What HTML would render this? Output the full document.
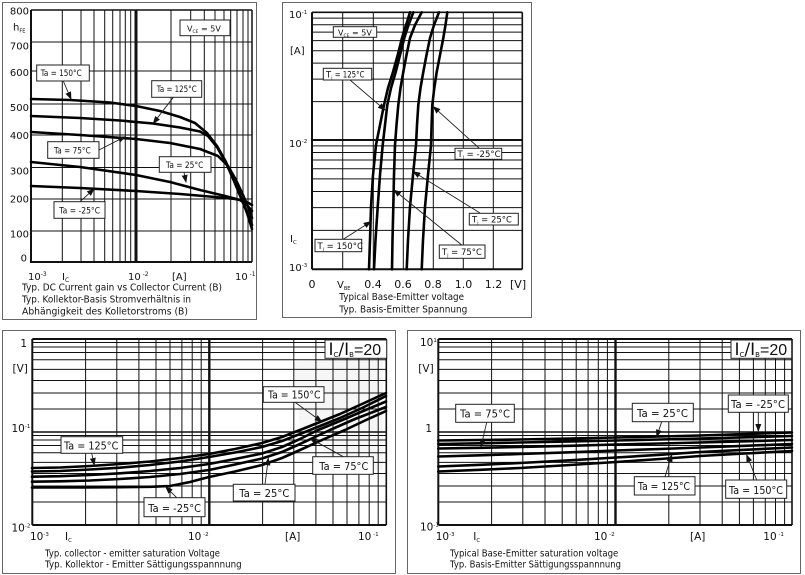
<!DOCTYPE html>
<html><head><meta charset="utf-8"><style>
html,body{margin:0;padding:0;background:#fff;}
svg{display:block;}
text{font-family:"DejaVu Sans","Liberation Sans",sans-serif;fill:#111;}
.g{stroke:#111;stroke-width:1;fill:none;}
.c{stroke:#000;stroke-width:2.6;fill:none;stroke-linejoin:round;stroke-linecap:round;}
.b{fill:#fff;stroke:#222;stroke-width:1;}
.a{stroke:#222;stroke-width:0.9;fill:none;}
.fr{fill:none;stroke:#666;stroke-width:1;}
</style></head><body>
<svg width="805" height="575" viewBox="0 0 805 575" xmlns="http://www.w3.org/2000/svg">
<defs>
<marker id="ah" markerWidth="8" markerHeight="6" refX="7" refY="3" orient="auto" markerUnits="userSpaceOnUse">
<path d="M0,0 L8,3 L0,6 Z" fill="#111"/>
</marker>
</defs>
<rect x="0" y="0" width="805" height="575" fill="#fff"/>

<!-- panel frames -->
<rect class="fr" x="2.5" y="2.5" width="254" height="317"/>
<rect class="fr" x="282.5" y="2.5" width="249" height="315"/>
<rect class="fr" x="2.5" y="330.5" width="393" height="243"/>
<rect class="fr" x="407.5" y="330.5" width="393" height="243"/>

<!-- ================= PANEL 1 ================= -->
<g class="g">
<path d="M62.3 10V262M81 10V262M94 10V262M104.7 10V262M112.7 10V262M120 10V262M125.3 10V262M130.7 10V262M171 10V262M190.7 10V262M204.3 10V262M215 10V262M224 10V262M230.7 10V262M237 10V262M243 10V262M248 10V262"/>
<path d="M31 42H252M31 71H252M31 104H252M31 135H252M31 167.5H252M31 199H252M31 231H252"/>
<path d="M31 10H252" stroke-width="1.5"/>
<path d="M252 10V262" stroke-width="1.5"/>
<path d="M31 262H252" stroke-width="2"/>
<path d="M31 10V263" stroke-width="2"/>
<path d="M136 10V262" stroke-width="3"/>
</g>
<g class="c">
<polyline points="31,99 70,100 110,102.5 136,106 160,111 180,117 195,123 207,133 217,146 226,162 234,180 241,197 247,213 252,229"/>
<polyline points="31,116 80,118 120,120.5 153,123.5 180,127.5 200,131.5 208,136 217,147 226,163 234,181 241,198 247,212 252,225"/>
<polyline points="31,132 80,135 136,139 170,143 200,149 218,156 228,166 236,180 243,195 248,207 252,218"/>
<polyline points="31,162 80,167 136,175 170,182 200,190 225,196 240,200 246,204 252,211"/>
<polyline points="31,186 80,188 136,191 180,194 215,197 235,199 245,201 252,205"/>
</g>
<g font-size="10" text-anchor="end">
<text x="29" y="14.5">800</text>
<text x="29" y="49.5">700</text>
<text x="29" y="76">600</text>
<text x="29" y="111">500</text>
<text x="29" y="139">400</text>
<text x="29" y="174.5">300</text>
<text x="29" y="202.5">200</text>
<text x="29" y="237.5">100</text>
<text x="27" y="261.5">0</text>
</g>
<text x="13" y="30.5" font-size="10">h<tspan font-size="5" dy="2">FE</tspan></text>
<g font-size="10">
<text x="28" y="280">10<tspan font-size="6" dy="-4">-3</tspan></text>
<text x="62" y="280" font-family="Liberation Serif,serif">I<tspan font-size="6" dy="2">C</tspan></text>
<text x="128" y="280">10<tspan font-size="6" dy="-4"> -2</tspan></text>
<text x="172" y="280">[A]</text>
<text x="235" y="280">10<tspan font-size="6" dy="-4"> -1</tspan></text>
</g>
<g font-size="9.5">
<text x="22" y="290.5" textLength="200" lengthAdjust="spacingAndGlyphs">Typ. DC Current gain vs Collector Current (B)</text>
<text x="22" y="302.5" textLength="169" lengthAdjust="spacingAndGlyphs">Typ. Kollektor-Basis Stromverhältnis in</text>
<text x="22" y="314.5" textLength="166" lengthAdjust="spacingAndGlyphs">Abhängigkeit des Kolletorstroms (B)</text>
</g>
<!-- panel 1 boxes -->
<rect class="b" x="180" y="20" width="50" height="15.7"/>
<text x="187" y="31.5" font-size="8">V<tspan font-size="4.5" dy="1.5">CE</tspan><tspan dy="-1.5"> = 5V</tspan></text>
<g font-size="8.5">
<path class="a" d="M63.3 81L71 99" marker-end="url(#ah)"/>
<rect class="b" x="36.7" y="65" width="52.6" height="16"/>
<text x="40.7" y="76" textLength="41" lengthAdjust="spacingAndGlyphs">Ta = 150°C</text>
<path class="a" d="M173.3 97.3L153.3 123.3" marker-end="url(#ah)"/>
<rect class="b" x="151.7" y="80.7" width="50" height="16.6"/>
<text x="156.7" y="92" textLength="40" lengthAdjust="spacingAndGlyphs">Ta = 125°C</text>
<path class="a" d="M99 150L125 136.7" marker-end="url(#ah)"/>
<rect class="b" x="47.7" y="141.7" width="51.3" height="16.6"/>
<text x="54" y="153.5" textLength="36.7" lengthAdjust="spacingAndGlyphs">Ta = 75°C</text>
<path class="a" d="M184 172.3L186 182" marker-end="url(#ah)"/>
<rect class="b" x="159.3" y="156.7" width="51.7" height="15.6"/>
<text x="166" y="168" textLength="37.3" lengthAdjust="spacingAndGlyphs">Ta = 25°C</text>
<path class="a" d="M80 201.7L94 189" marker-end="url(#ah)"/>
<rect class="b" x="54" y="201.7" width="51" height="16.6"/>
<text x="59.3" y="213.5" textLength="40.7" lengthAdjust="spacingAndGlyphs">Ta = -25°C</text>
</g>

<!-- ================= PANEL 2 ================= -->
<g class="g">
<path d="M342.7 12.3V269.3M373.3 12.3V269.3M403.3 12.3V269.3M433.3 12.3V269.3M463.3 12.3V269.3M493.3 12.3V269.3"/>
<path d="M312 18.1H522.3M312 24.7H522.3M312 32.1H522.3M312 40.6H522.3M312 50.7H522.3M312 63.1H522.3M312 79.1H522.3M312 101.6H522.3M312 145.9H522.3M312 152.5H522.3M312 160H522.3M312 168.7H522.3M312 178.9H522.3M312 191.5H522.3M312 207.6H522.3M312 230.4H522.3"/>
<path d="M312 140H522.3" stroke-width="2"/>
<path d="M312 12.3H522.3" stroke-width="1.6"/>
<path d="M312 269.3H522.3" stroke-width="2"/>
<path d="M312 12.3V269.3" stroke-width="2"/>
<path d="M522.3 12.3V269.3" stroke-width="1.6"/>
</g>
<g class="c">
<polyline points="369,269.3 370,240 371,207 373,175 376,145 380,125 384,105 388,88 393,72 398,54 402,38 405,28 407,22 410,12.3"/>
<polyline points="374,269.3 375.5,240 377.7,207 380,175 382.7,145 385,125 387.3,105 391,88 395.7,72 400,55 404.3,38 408.5,25 413.3,12.3"/>
<polyline points="392,269.3 392.5,240 393.3,207 394,175 395,145 396.5,125 398.3,105 400.5,88 403.3,72 406.5,55 410,38 415,25 421.7,12.3"/>
<polyline points="406.7,269.3 408,240 410,207 413,175 416,145 417,125 418.3,105 420.5,88 423.3,72 426.5,55 430,38 434,25 439,12.3"/>
<polyline points="421.7,269.3 423,240 425,207 428,175 431,145 431.6,125 432.3,105 434.3,88 436.7,72 440,55 443.3,38 445.5,25 447.3,12.3"/>
</g>
<g font-size="10">
<text x="289" y="18">10<tspan font-size="5.5" dy="-4">-1</tspan></text>
<text x="290" y="54">[A]</text>
<text x="289" y="147">10<tspan font-size="5.5" dy="-4">-2</tspan></text>
<text x="290" y="242">I<tspan font-size="5.5" dy="2">C</tspan></text>
<text x="289" y="271">10<tspan font-size="5.5" dy="-4">-3</tspan></text>
</g>
<g font-size="11" text-anchor="middle">
<text x="312" y="288">0</text>
<text x="373" y="288">0.4</text>
<text x="403" y="288">0.6</text>
<text x="433" y="288">0.8</text>
<text x="463.5" y="288">1.0</text>
<text x="493.5" y="288">1.2</text>
</g>
<text x="337" y="288" font-size="10">V<tspan font-size="5" dy="2">BE</tspan></text>
<text x="510" y="288" font-size="11">[V]</text>
<g font-size="9.5">
<text x="339.3" y="300" textLength="124.7" lengthAdjust="spacingAndGlyphs">Typical Base-Emitter voltage</text>
<text x="339.3" y="312.5" textLength="128" lengthAdjust="spacingAndGlyphs">Typ. Basis-Emitter Spannung</text>
</g>
<rect class="b" x="333.3" y="26.7" width="43.4" height="10.6"/>
<text x="338" y="35.5" font-size="8">V<tspan font-size="4.5" dy="1.5">CE</tspan><tspan dy="-1.5"> = 5V</tspan></text>
<g font-size="8.5">
<path class="a" d="M350 80L385 110" marker-end="url(#ah)"/>
<rect class="b" x="323.3" y="68.3" width="48.4" height="11.7"/>
<text x="326" y="77.5">T<tspan font-size="4.5" dy="1.5">j</tspan><tspan dy="-1.5" textLength="32" lengthAdjust="spacingAndGlyphs"> =  125°C</tspan></text>
<path class="a" d="M479 148L433.3 106.7" marker-end="url(#ah)"/>
<rect class="b" x="455" y="148.3" width="46.7" height="11"/>
<text x="457.5" y="157">T<tspan font-size="4.5" dy="1.5">j</tspan><tspan dy="-1.5"> = -25°C</tspan></text>
<path class="a" d="M480 213L413.3 171.7" stroke="#aaa" marker-end="url(#ah)"/>
<rect class="b" x="469.3" y="213.3" width="49" height="11.7"/>
<text x="472" y="222.5">T<tspan font-size="4.5" dy="1.5">j</tspan><tspan dy="-1.5"> =  25°C</tspan></text>
<path class="a" d="M461.7 245L394 190" marker-end="url(#ah)"/>
<rect class="b" x="439.3" y="245" width="45.7" height="13.3"/>
<text x="442" y="255">T<tspan font-size="4.5" dy="1.5">j</tspan><tspan dy="-1.5"> = 75°C</tspan></text>
<path class="a" d="M343.3 239.3L370.7 221.7" marker-end="url(#ah)"/>
<rect class="b" x="315" y="239.3" width="46.7" height="12.4"/>
<text x="317.5" y="249">T<tspan font-size="4.5" dy="1.5">j</tspan><tspan dy="-1.5"> = 150°C</tspan></text>
</g>

<!-- ================= PANEL 3 ================= -->
<path d="M293 362 L383 356 L383 470 L345 470 L300 430 Z" fill="#f6f6f6"/>
<g class="g">
<path d="M85.6 339V525M116.8 339V525M138.9 339V525M156 339V525M170 339V525M181.9 339V525M192.2 339V525M201.2 339V525M262.6 339V525M293.8 339V525M315.9 339V525M333 339V525M347 339V525M358.9 339V525M369.2 339V525M378.2 339V525"/>
<path d="M32.3 342.5H386.3M32.3 347H386.3M32.3 352.5H386.3M32.3 359.7H386.3M32.3 369.4H386.3M32.3 380.5H386.3M32.3 393H386.3M32.3 409H386.3M32.3 435.5H386.3M32.3 440H386.3M32.3 445.5H386.3M32.3 452.8H386.3M32.3 462.4H386.3M32.3 473.5H386.3M32.3 486H386.3M32.3 502H386.3"/>
<path d="M32.3 432H386.3" stroke-width="1.6"/>
<path d="M32.3 339H386.3" stroke-width="2"/>
<path d="M32.3 525H386.3" stroke-width="2"/>
<path d="M32.3 339V525" stroke-width="2"/>
<path d="M386.3 339V525" stroke-width="1.6"/>
<path d="M209.3 339V525" stroke-width="2.4"/>
</g>
<g class="c">
<polyline points="32,468 60,467.5 90,466 120,464 150,461.5 180,458 209,454 235,449 262,443 282,437 300,430 320,422 340,414 362,404 386,393"/>
<polyline points="32,471.5 60,471 90,469.5 120,467.7 150,465 180,461.5 209,457 235,452.5 262,447 282,441 300,434 320,426 340,418 362,408 386,396"/>
<polyline points="32,476.7 60,476.2 90,475 120,473.3 150,471 180,468 209,464 235,459 262,453.5 282,447 300,439 318,430 340,421 362,411.5 386,401.5"/>
<polyline points="32,481.7 60,481.3 90,480.5 120,479 150,477 180,474 209,470 235,464.5 262,458.5 282,452 300,444 315,437 330,430 355,419 386,407"/>
<polyline points="32,487.5 80,487.4 120,487.2 150,486.8 170,486 190,482 209,477 235,471.5 262,465 282,458 300,450 322,440 345,430 365,420.5 386,411"/>
</g>
<g font-size="10.5">
<text x="27" y="347" text-anchor="end">1</text>
<text x="12.5" y="372">[V]</text>
<text x="11.5" y="432">10<tspan font-size="5.5" dy="-4">-1</tspan></text>
<text x="11.5" y="531.5">10<tspan font-size="5.5" dy="-4">-2</tspan></text>
<text x="30" y="540">10<tspan font-size="5.5" dy="-4">-3</tspan></text>
<text x="65" y="540" font-family="Liberation Serif,serif">I<tspan font-size="5.5" dy="2">C</tspan></text>
<text x="188" y="540">10<tspan font-size="5.5" dy="-4"> -2</tspan></text>
<text x="285" y="540">[A]</text>
<text x="358" y="540">10<tspan font-size="5.5" dy="-4"> -1</tspan></text>
</g>
<g font-size="9.5">
<text x="45" y="556.5" textLength="175" lengthAdjust="spacingAndGlyphs">Typ. collector - emitter saturation Voltage</text>
<text x="45" y="567.5" textLength="196.7" lengthAdjust="spacingAndGlyphs">Typ. Kollektor - Emitter Sättigungsspannnung</text>
</g>
<rect class="b" x="325" y="340" width="61.7" height="18.3"/>
<text x="328.5" y="355" font-size="17" font-family="Liberation Serif,serif">I<tspan font-size="7" dy="2">C</tspan><tspan dy="-2">/I</tspan><tspan font-size="7" dy="2">B</tspan><tspan dy="-2" font-family="Liberation Sans,sans-serif" font-size="16">=20</tspan></text>
<g font-size="10.5">
<path class="a" d="M295 402.3L321.7 421.7" marker-end="url(#ah)"/>
<rect class="b" x="263.3" y="386.7" width="60.7" height="15.6"/>
<text x="268" y="398.5" textLength="52.5" lengthAdjust="spacingAndGlyphs">Ta = 150°C</text>
<path class="a" d="M91.7 453.3L94.3 465" marker-end="url(#ah)"/>
<rect class="b" x="61" y="436.7" width="61.7" height="16.6"/>
<text x="64" y="449.5" textLength="54.3" lengthAdjust="spacingAndGlyphs">Ta = 125°C</text>
<path class="a" d="M343.3 456.7L310 438.3" stroke="#888" marker-end="url(#ah)"/>
<rect class="b" x="312.7" y="456.7" width="60.6" height="17.6"/>
<text x="319.3" y="470" textLength="49" lengthAdjust="spacingAndGlyphs">Ta = 75°C</text>
<path class="a" d="M265 484.3L268.3 458.3" marker-end="url(#ah)"/>
<rect class="b" x="233.3" y="484.3" width="61.7" height="16.7"/>
<text x="239.3" y="497" textLength="50" lengthAdjust="spacingAndGlyphs">Ta = 25°C</text>
<path class="a" d="M176.7 497.7L165.7 486.7" marker-end="url(#ah)"/>
<rect class="b" x="144" y="497.7" width="61" height="19"/>
<text x="148.3" y="512" textLength="52.7" lengthAdjust="spacingAndGlyphs">Ta = -25°C</text>
</g>

<!-- ================= PANEL 4 ================= -->
<g class="g">
<path d="M491.6 339V525M522.8 339V525M545 339V525M562.2 339V525M576.2 339V525M588.1 339V525M598.3 339V525M607.4 339V525M668.8 339V525M700 339V525M722.2 339V525M739.4 339V525M753.4 339V525M765.3 339V525M775.5 339V525M784.6 339V525"/>
<path d="M438.3 342.5H792M438.3 347H792M438.3 352.5H792M438.3 359.7H792M438.3 369.4H792M438.3 380.5H792M438.3 393H792M438.3 409H792M438.3 435.5H792M438.3 440H792M438.3 445.5H792M438.3 452.8H792M438.3 462.4H792M438.3 473.5H792M438.3 486H792M438.3 502H792"/>
<path d="M438.3 432H792" stroke-width="1.6"/>
<path d="M438.3 339H792" stroke-width="2"/>
<path d="M438.3 525H792" stroke-width="2"/>
<path d="M438.3 339V525" stroke-width="2"/>
<path d="M792 339V525" stroke-width="1.6"/>
<path d="M615.5 339V525" stroke-width="2.4"/>
</g>
<g class="c">
<polyline points="438.3,440.5 480,440 520,439.5 570,438.5 616,437.5 660,436.5 700,435.5 745,434 792,432.5"/>
<polyline points="438.3,444 480,443.3 520,442.5 570,441.5 616,440.5 660,439.5 700,438.5 745,437.3 792,436"/>
<polyline points="438.3,448.5 480,447.8 520,447 570,445.8 616,444.5 660,443.5 700,442.5 745,441.3 792,440"/>
<polyline points="438.3,456.5 480,455.3 520,454 570,452.3 616,450.5 660,449 700,447.5 745,445.8 792,444"/>
<polyline points="438.3,466.5 480,464.8 520,463 570,460.3 616,457.5 660,454.8 700,452 745,449.8 792,447.5"/>
<polyline points="438.3,471.5 480,469.8 520,468 570,465 616,462 660,459 700,456 745,453.5 792,451"/>
</g>
<g font-size="10.5">
<text x="420" y="346">10<tspan font-size="5.5" dy="-4">1</tspan></text>
<text x="418.3" y="372">[V]</text>
<text x="432" y="432" text-anchor="end">1</text>
<text x="420" y="530.5">10<tspan font-size="5.5" dy="-4">-1</tspan></text>
<text x="435.7" y="540">10<tspan font-size="5.5" dy="-4">-3</tspan></text>
<text x="473.3" y="540" font-family="Liberation Serif,serif">I<tspan font-size="5.5" dy="2">C</tspan></text>
<text x="594" y="540">10<tspan font-size="5.5" dy="-4"> -2</tspan></text>
<text x="690" y="540">[A]</text>
<text x="763.3" y="540">10<tspan font-size="5.5" dy="-4"> -1</tspan></text>
</g>
<g font-size="9.5">
<text x="450" y="556.5" textLength="168.3" lengthAdjust="spacingAndGlyphs">Typical Base-Emitter saturation voltage</text>
<text x="450" y="567.5" textLength="171" lengthAdjust="spacingAndGlyphs">Typ. Basis-Emitter Sättigungsspannnung</text>
</g>
<rect class="b" x="731" y="340" width="60.7" height="18.3"/>
<text x="734.5" y="355" font-size="17" font-family="Liberation Serif,serif">I<tspan font-size="7" dy="2">C</tspan><tspan dy="-2">/I</tspan><tspan font-size="7" dy="2">B</tspan><tspan dy="-2" font-family="Liberation Sans,sans-serif" font-size="16">=20</tspan></text>
<g font-size="10.5">
<path class="a" d="M486.7 422.3L481 446.7" marker-end="url(#ah)"/>
<rect class="b" x="455.7" y="404.3" width="58.6" height="18"/>
<text x="460" y="417.5" textLength="50" lengthAdjust="spacingAndGlyphs">Ta = 75°C</text>
<path class="a" d="M661.7 421.7L656.7 436.7" marker-end="url(#ah)"/>
<rect class="b" x="632.3" y="403.3" width="61" height="18.4"/>
<text x="637" y="417" textLength="51" lengthAdjust="spacingAndGlyphs">Ta = 25°C</text>
<path class="a" d="M758.3 412.3L758.3 431" marker-end="url(#ah)"/>
<rect class="b" x="728.3" y="395" width="60" height="17.3"/>
<text x="731" y="408" textLength="54" lengthAdjust="spacingAndGlyphs">Ta = -25°C</text>
<path class="a" d="M665 476.7L671.7 455" marker-end="url(#ah)"/>
<rect class="b" x="634.3" y="476.7" width="60.7" height="18.3"/>
<text x="638" y="490" textLength="52" lengthAdjust="spacingAndGlyphs">Ta = 125°C</text>
<path class="a" d="M756.7 480L746.7 455" marker-end="url(#ah)"/>
<rect class="b" x="725.7" y="480" width="61" height="18.3"/>
<text x="729" y="494" textLength="54" lengthAdjust="spacingAndGlyphs">Ta = 150°C</text>
</g>
</svg>
</body></html>
